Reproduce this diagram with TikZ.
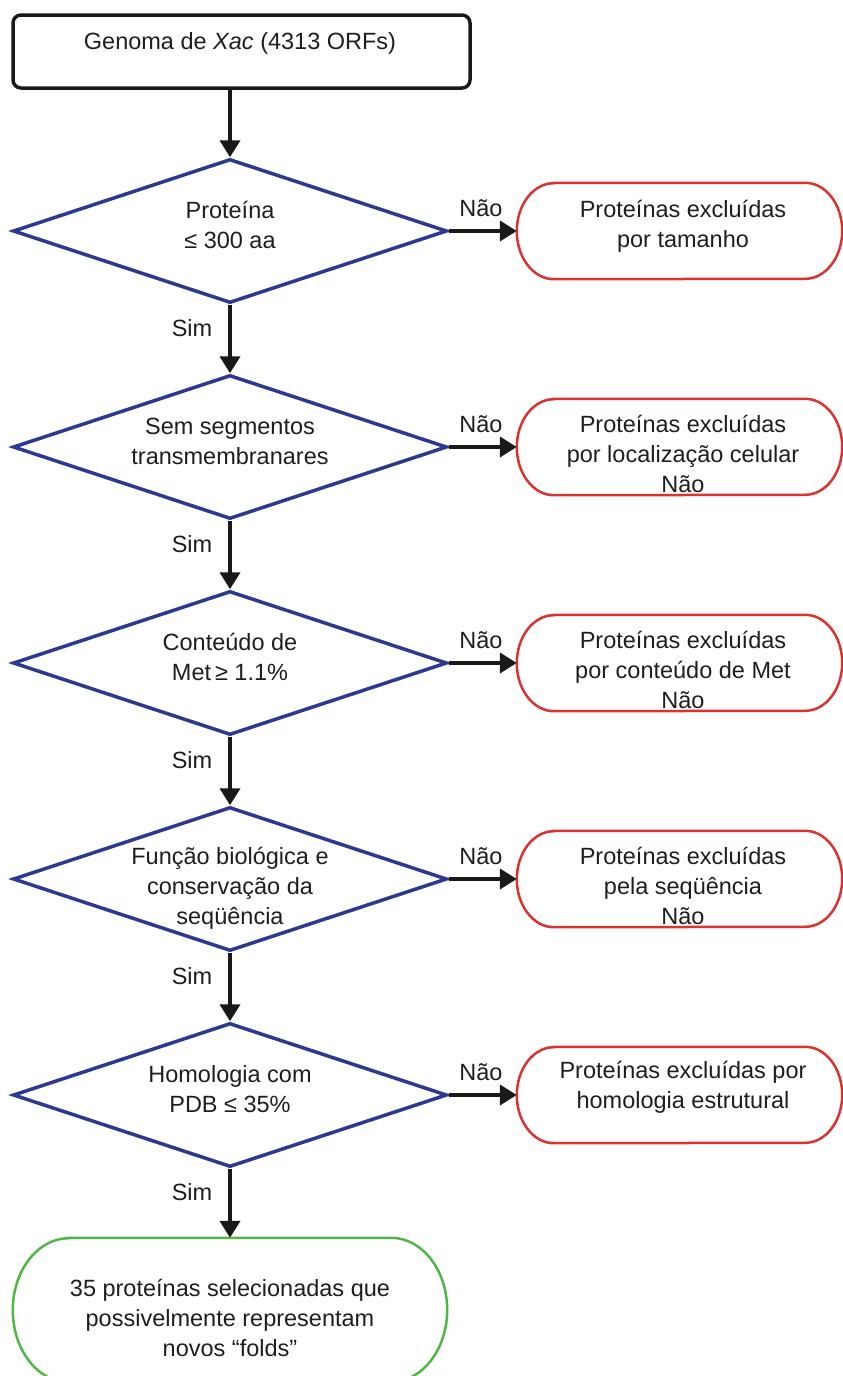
\documentclass[tikz,border=0pt]{standalone}
\usepackage{fontspec}
\setmainfont{Liberation Sans}
\usetikzlibrary{shapes.geometric,arrows.meta}
\definecolor{dblue}{RGB}{43,57,144}
\definecolor{tred}{RGB}{220,50,47}
\definecolor{tgreen}{RGB}{80,182,72}
\definecolor{ink}{RGB}{30,30,30}
\newcommand\termshape[5]{%
  \draw[#2,line width=#5] ([xshift=#3]#1.north west) -- ([xshift=-#3]#1.north east)
    arc[start angle=90,end angle=-90,x radius=#3,y radius=#4]
    -- ([xshift=#3]#1.south west)
    arc[start angle=270,end angle=90,x radius=#3,y radius=#4] -- cycle;}
\begin{document}
\begin{tikzpicture}[x=1pt,y=-1pt,
  every node/.style={font=\fontsize{23.5}{30}\selectfont, text=ink},
  txt/.style={align=center, inner sep=0pt},
  dia/.style={diamond, draw=dblue, line width=3.5pt, minimum width=434pt, minimum height=144pt, inner sep=0pt},
  termbox/.style={rectangle, minimum width=325pt, minimum height=96pt, inner sep=0pt},
  startbox/.style={rectangle, draw=black!90, line width=3.5pt, rounded corners=8pt, minimum width=457pt, minimum height=73pt, inner sep=0pt},
  arr/.style={line width=4pt, draw=black!90, -{Triangle[length=17pt,width=20pt]}},
  lbl/.style={anchor=base, inner sep=0pt}]
\useasboundingbox (0,0) rectangle (843,1376);
\clip (0,0) rectangle (843,1376);

% start box
\node[startbox] (top) at (241.5,51.5) {};
\node[txt] (toptxt) at (240,43) {Genoma de \textit{Xac} (4313 ORFs)};

% diamonds
\node[dia] (d1) at (230,231) {};
\node[txt] (d1t) at (230,225) {Proteína\\≤ 300 aa};
\node[dia] (d2) at (230,447) {};
\node[txt] (d2t) at (230,441) {Sem segmentos\\transmembranares};
\node[dia] (d3) at (230,663) {};
\node[txt] (d3t) at (230,657) {Conteúdo de\\Met\,≥ 1.1\%};
\node[dia] (d4) at (230,879) {};
\node[txt] (d4t) at (230,888) {Função biológica e\\conservação da\\seqüência};
\node[dia] (d5) at (230,1095) {};
\node[txt] (d5t) at (230,1089) {Homologia com\\PDB ≤ 35\%};

% red terminals
\node[termbox] (r1) at (679.5,231) {};
\termshape{r1}{tred}{37pt}{48pt}{2.5pt}
\node[txt] (r1t) at (683,226) {Proteínas excluídas\\por tamanho};
\node[termbox] (r2) at (679.5,447) {};
\termshape{r2}{tred}{37pt}{48pt}{2.5pt}
\node[txt] (r2t) at (683,454) {Proteínas excluídas\\por localização celular\\Não};
\node[termbox] (r3) at (679.5,663) {};
\termshape{r3}{tred}{37pt}{48pt}{2.5pt}
\node[txt] (r3t) at (683,670) {Proteínas excluídas\\por conteúdo de Met\\Não};
\node[termbox] (r4) at (679.5,879) {};
\termshape{r4}{tred}{37pt}{48pt}{2.5pt}
\node[txt] (r4t) at (683,886) {Proteínas excluídas\\pela seqüência\\Não};
\node[termbox] (r5) at (679.5,1095) {};
\termshape{r5}{tred}{37pt}{48pt}{2.5pt}
\node[txt] (r5t) at (683,1087) {Proteínas excluídas por\\homologia estrutural};

% green terminal
\node[termbox, minimum width=434pt, minimum height=144pt] (g) at (230,1310) {};
\termshape{g}{tgreen}{56pt}{72pt}{2.5pt}
\node[txt] (gt) at (230,1318) {35 proteínas selecionadas que\\possivelmente representam\\novos “folds”};

% connectors
\draw[arr] (d1.north |- top.south) -- (d1.north);
\draw[arr] (d1.south) -- (d2.north);
\draw[arr] (d2.south) -- (d3.north);
\draw[arr] (d3.south) -- (d4.north);
\draw[arr] (d4.south) -- (d5.north);
\draw[arr] (d5.south) -- (g.north);
\draw[arr] (d1.east) -- (r1.west);
\draw[arr] (d2.east) -- (r2.west);
\draw[arr] (d3.east) -- (r3.west);
\draw[arr] (d4.east) -- (r4.west);
\draw[arr] (d5.east) -- (r5.west);

% labels
\node[lbl] (n1) at (481,216) {Não};
\node[lbl] (n2) at (481,432) {Não};
\node[lbl] (n3) at (481,648) {Não};
\node[lbl] (n4) at (481,864) {Não};
\node[lbl] (n5) at (481,1080) {Não};
\node[lbl] (s1) at (192,336) {Sim};
\node[lbl] (s2) at (192,552) {Sim};
\node[lbl] (s3) at (192,768) {Sim};
\node[lbl] (s4) at (192,984) {Sim};
\node[lbl] (s5) at (192,1200) {Sim};
\end{tikzpicture}
\end{document}
